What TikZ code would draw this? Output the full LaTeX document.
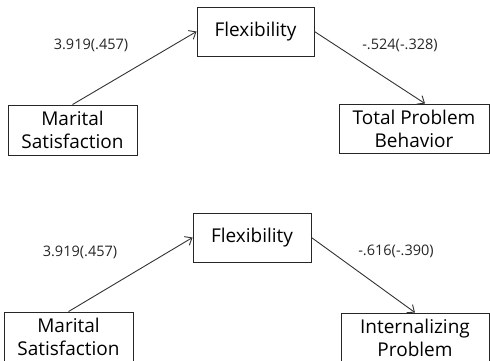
\documentclass[tikz,border=0pt]{standalone}
\usepackage{fontspec}
\setmainfont{Open Sans}
\usetikzlibrary{arrows.meta,calc}
\begin{document}
\begin{tikzpicture}[x=1pt,y=-1pt,
  box/.style={draw=black!85,line width=0.9pt,inner sep=0pt,align=center,font=\fontsize{19}{23}\selectfont},
  path/.style={draw=black!80,line width=0.9pt,-{Straight Barb[length=6pt,width=10pt,line width=0.9pt]}},
  coef/.style={font=\fontsize{14.5}{16}\selectfont,text=black!85}]
\useasboundingbox (0,0) rectangle (490,360);
% top model
\node[box,minimum width=129pt,minimum height=50pt] (ms1) at (72.5,130) {Marital\\Satisfaction};
\node[box,minimum width=117pt,minimum height=49pt] (fx1) at (255.5,31.5) {Flexibility};
\node[box,minimum width=150pt,minimum height=49pt] (tp) at (414,128.5) {Total Problem\\Behavior};
\coordinate (tpin) at ($(tp.north)+(11,0)$);
\draw[path] (ms1.north) -- (fx1.west);
\draw[path] (fx1.east) -- (tpin);
\node[coef] (c1) at (91,45) {3.919(.457)};
\node[coef] (c2) at (400,45) {-.524(-.328)};
% bottom model
\node[box,minimum width=129pt,minimum height=50pt] (ms2) at (68.5,337) {Marital\\Satisfaction};
\node[box,minimum width=118pt,minimum height=49pt] (fx2) at (252,237.5) {Flexibility};
\node[box,minimum width=148pt,minimum height=50pt] (ip) at (415,338) {Internalizing\\Problem};
\draw[path] (ms2.north) -- (fx2.west);
\draw[path] (fx2.east) -- (ip.north);
\node[coef] (c3) at (80,252) {3.919(.457)};
\node[coef] (c4) at (396,251) {-.616(-.390)};
\end{tikzpicture}
\end{document}
